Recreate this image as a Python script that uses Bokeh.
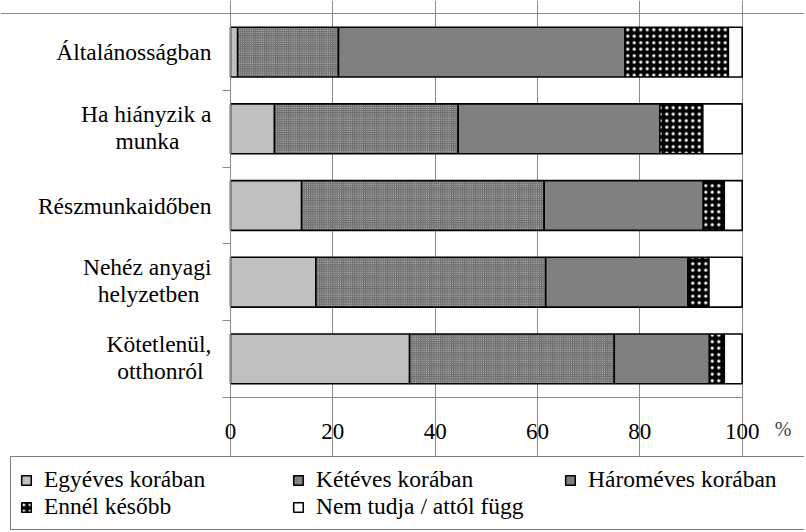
from bokeh.plotting import figure
from bokeh.models import Range1d, FixedTicker, Label, ColumnDataSource, Legend, LegendItem
from bokeh.embed import file_html
from bokeh.resources import INLINE

# ---------------- data ----------------
categories = ["Általánosságban", "Ha hiányzik a\nmunka", "Részmunkaidőben",
              "Nehéz anyagi\nhelyzetben", "Kötetlenül,\notthonról"]
series = ["Egyéves korában", "Kétéves korában", "Hároméves korában",
          "Ennél később", "Nem tudja / attól függ"]
egyeves = [1.4, 8.6, 13.9, 16.7, 35.0]
keteves = [19.7, 35.9, 47.4, 44.9, 40.0]
haromeves = [56.0, 39.4, 31.1, 27.8, 18.6]
kesobb = [20.2, 8.4, 4.1, 4.1, 2.9]
nem_tudja = [2.7, 7.7, 3.5, 6.5, 3.5]
x_ticks = [0, 20, 40, 60, 80, 100]
unit_label = "%"

values = [egyeves, keteves, haromeves, kesobb, nem_tudja]

# ---------------- layout (pixels) ----------------
W, H = 804, 530
PLOT_L, PLOT_R, PLOT_T, PLOT_B = 230.0, 741.7, 13.3, 396.7
XMIN, XMAX = 0, 100
n = len(categories)
px_x = (PLOT_R - PLOT_L) / (XMAX - XMIN)
px_y = (PLOT_B - PLOT_T) / n
x_range = Range1d(XMIN - PLOT_L / px_x, XMAX + (W - PLOT_R) / px_x)
y_range = Range1d(-(H - PLOT_B) / px_y, n + PLOT_T / px_y)
LINE_UP, LINE_DOWN = 15.0, 12.0          # px offsets of the two lines of a wrapped label
SECOND_INDENT = {1: 33, 3: 13, 4: 9}     # px, centres the 2nd line under the 1st
LABEL_STANDOFF = 11
LABEL_GAP = 18                           # px between axis and right edge of labels

# ---------------- styles ----------------
FONT = "'Liberation Serif', 'Times New Roman', serif"
LABEL_SIZE = "23.5px"
GRID = "#8c8c8c"
styles = [
    dict(fill_color="#c0c0c0"),
    dict(fill_color="#6e6e6e", hatch_pattern="dot", hatch_color="#cccccc", hatch_scale=2.2, hatch_weight=1.2),
    dict(fill_color="#808080"),
    dict(fill_color="#000000", hatch_pattern="dot", hatch_color="#ffffff", hatch_scale=6.5, hatch_weight=1.3),
    dict(fill_color="#ffffff"),
]

ys = [n - i - 0.5 for i in range(n)]

p = figure(width=W, height=H, x_range=x_range, y_range=y_range,
           output_backend="svg", toolbar_location=None, min_border=0)
p.outline_line_color = None

# stacked bars
lefts = [0.0] * n
renderers = []
for vals, st in zip(values, styles):
    rights = [l + v for l, v in zip(lefts, vals)]
    src = ColumnDataSource(dict(y=ys, left=lefts, right=rights))
    r = p.hbar(y="y", left="left", right="right", height=0.65, source=src,
               line_color="black", line_width=1.6, **st)
    renderers.append(r)
    lefts = rights

# x axis, fixed at the bottom edge of the plot area
p.xaxis.fixed_location = 0
p.xaxis.bounds = (XMIN, XMAX)
p.xaxis.ticker = FixedTicker(ticks=x_ticks, minor_ticks=[])
p.xaxis.axis_line_color = GRID
p.xaxis.major_tick_line_color = GRID
p.xaxis.major_tick_out = 8
p.xaxis.major_tick_in = 0
p.xaxis.major_label_text_font = FONT
p.xaxis.major_label_text_font_size = "23px"
p.xaxis.major_label_text_color = "black"
p.xaxis.major_label_standoff = 19

# category labels: first lines on the y axis, second lines as labels centred below
first_y, first_txt, second = [], [], []
for i, c in enumerate(categories):
    lines = c.split("\n")
    if len(lines) == 1:
        first_y.append(ys[i])
        first_txt.append(lines[0])
    else:
        first_y.append(ys[i] + LINE_UP / px_y)
        first_txt.append(lines[0])
        second.append((i, ys[i] - LINE_DOWN / px_y, lines[1]))

p.yaxis.fixed_location = XMIN
p.yaxis.bounds = (0, n)
p.yaxis.ticker = FixedTicker(ticks=first_y, minor_ticks=list(range(n + 1)))
p.yaxis.major_label_overrides = {y: t for y, t in zip(first_y, first_txt)}
p.yaxis.axis_line_color = GRID
p.yaxis.major_tick_line_color = None
p.yaxis.major_tick_out = 0
p.yaxis.major_tick_in = 0
p.yaxis.minor_tick_line_color = GRID
p.yaxis.minor_tick_out = 8
p.yaxis.minor_tick_in = 0
p.yaxis.major_label_text_font = FONT
p.yaxis.major_label_text_font_size = LABEL_SIZE
p.yaxis.major_label_text_color = "black"
p.yaxis.major_label_standoff = LABEL_STANDOFF

for i, y2, t2 in second:
    x2 = XMIN - (LABEL_GAP + SECOND_INDENT.get(i, 0)) / px_x
    p.add_layout(Label(x=x2, y=y2, text=t2, text_font=FONT, text_font_size=LABEL_SIZE,
                       text_color="black", text_align="right", text_baseline="middle"))

# grid: vertical lines at the ticks + top border of the plot area
p.xgrid.ticker = FixedTicker(ticks=x_ticks, minor_ticks=[])
p.xgrid.bounds = (0, n)
p.xgrid.grid_line_color = GRID
p.ygrid.ticker = FixedTicker(ticks=[n], minor_ticks=[])
p.ygrid.bounds = (XMIN, XMAX)
p.ygrid.grid_line_color = GRID

p.add_layout(Label(x=XMAX + 8, y=-0.41, text=unit_label,
                   text_font=FONT, text_font_size="20px",
                   text_align="center", text_baseline="middle"))

legend = Legend(items=[LegendItem(label=s, renderers=[r]) for s, r in zip(series, renderers)],
                location=(10, 0), orientation="horizontal", ncols=3,
                padding=9, spacing=-6, margin=0,
                glyph_width=12, glyph_height=12, label_standoff=12, label_width=248,
                label_height=20,
                label_text_font=FONT, label_text_font_size=LABEL_SIZE, label_text_color="black",
                border_line_color="black", border_line_width=1.5, background_fill_alpha=1.0)
p.add_layout(legend)

open("out.html", "w").write(file_html(p, INLINE))
